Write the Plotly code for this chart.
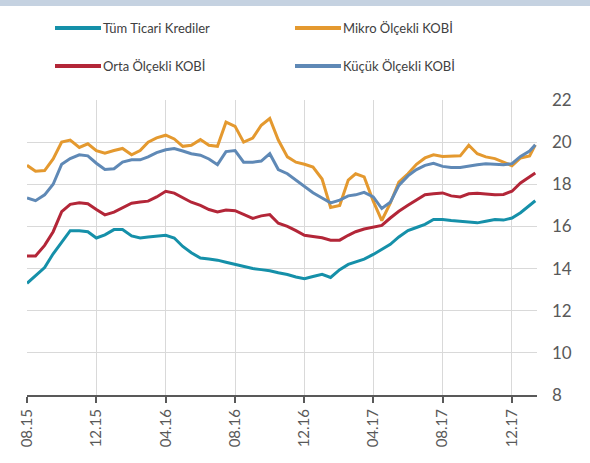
import plotly.graph_objects as go

dates = [
    "2015-08-01", "2015-08-16", "2015-09-01", "2015-09-16", "2015-10-01", "2015-10-16",
    "2015-11-01", "2015-11-16", "2015-12-01", "2015-12-16", "2016-01-01", "2016-01-16",
    "2016-02-01", "2016-02-16", "2016-03-01", "2016-03-16", "2016-04-01", "2016-04-16",
    "2016-05-01", "2016-05-16", "2016-06-01", "2016-06-16", "2016-07-01", "2016-07-16",
    "2016-08-01", "2016-08-16", "2016-09-01", "2016-09-16", "2016-10-01", "2016-10-16",
    "2016-11-01", "2016-11-16", "2016-12-01", "2016-12-16", "2017-01-01", "2017-01-16",
    "2017-02-01", "2017-02-16", "2017-03-01", "2017-03-16", "2017-04-01", "2017-04-16",
    "2017-05-01", "2017-05-16", "2017-06-01", "2017-06-16", "2017-07-01", "2017-07-16",
    "2017-08-01", "2017-08-16", "2017-09-01", "2017-09-16", "2017-10-01", "2017-10-16",
    "2017-11-01", "2017-11-16", "2017-12-01", "2017-12-16", "2018-01-01", "2018-01-11",
]

tum_ticari = [
    13.30, 13.65, 14.05, 14.70, 15.25, 15.80, 15.80, 15.75, 15.45, 15.60,
    15.85, 15.85, 15.55, 15.45, 15.50, 15.55, 15.58, 15.45, 15.05, 14.75,
    14.50, 14.45, 14.40, 14.30, 14.20, 14.10, 14.00, 13.95, 13.90, 13.80,
    13.72, 13.60, 13.52, 13.62, 13.73, 13.58, 13.95, 14.20, 14.30, 14.45,
    14.67, 14.90, 15.15, 15.50, 15.80, 15.95, 16.10, 16.33, 16.33, 16.28,
    16.25, 16.20, 16.17, 16.25, 16.33, 16.30, 16.40, 16.65, 17.00, 17.22,
]

mikro = [
    18.90, 18.62, 18.65, 19.20, 20.00, 20.10, 19.75, 19.92, 19.60, 19.48,
    19.60, 19.70, 19.40, 19.60, 20.00, 20.20, 20.33, 20.15, 19.80, 19.85,
    20.12, 19.85, 19.80, 20.95, 20.75, 20.00, 20.19, 20.80, 21.12, 20.10,
    19.30, 19.05, 18.95, 18.82, 18.25, 16.90, 17.00, 18.20, 18.50, 18.35,
    17.20, 16.28, 17.10, 18.10, 18.50, 18.95, 19.25, 19.40, 19.32, 19.32,
    19.35, 19.85, 19.45, 19.30, 19.22, 19.05, 18.88, 19.25, 19.35, 19.87,
]

orta = [
    14.60, 14.60, 15.10, 15.75, 16.70, 17.05, 17.12, 17.08, 16.80, 16.55,
    16.68, 16.90, 17.10, 17.16, 17.20, 17.40, 17.67, 17.58, 17.38, 17.15,
    17.00, 16.80, 16.69, 16.78, 16.75, 16.58, 16.38, 16.50, 16.56, 16.15,
    16.00, 15.80, 15.58, 15.52, 15.46, 15.35, 15.35, 15.58, 15.75, 15.88,
    15.95, 16.05, 16.40, 16.72, 17.00, 17.25, 17.50, 17.55, 17.59, 17.45,
    17.40, 17.55, 17.58, 17.54, 17.50, 17.52, 17.67, 18.06, 18.35, 18.53,
]

kucuk = [
    17.35, 17.22, 17.50, 18.00, 18.95, 19.22, 19.40, 19.35, 19.00, 18.70,
    18.74, 19.05, 19.16, 19.16, 19.30, 19.50, 19.64, 19.70, 19.58, 19.45,
    19.38, 19.20, 18.93, 19.55, 19.60, 19.05, 19.05, 19.10, 19.45, 18.70,
    18.50, 18.20, 17.90, 17.60, 17.35, 17.12, 17.25, 17.45, 17.50, 17.62,
    17.40, 16.85, 17.15, 17.95, 18.40, 18.70, 18.90, 19.00, 18.85, 18.80,
    18.80, 18.88, 18.93, 18.97, 18.95, 18.93, 18.98, 19.32, 19.58, 19.87,
]

series_names = ["Tüm Ticari Krediler", "Mikro Ölçekli KOBİ", "Orta Ölçekli KOBİ", "Küçük Ölçekli KOBİ"]
series_values = [tum_ticari, mikro, orta, kucuk]
series_colors = ["#1590a9", "#e4992f", "#b32638", "#5f89b6"]

y_ticks = [8, 10, 12, 14, 16, 18, 20, 22]
x_ticks = ["2015-08-01", "2015-12-01", "2016-04-01", "2016-08-01",
           "2016-12-01", "2017-04-01", "2017-08-01", "2017-12-01"]

fig = go.Figure()
for name, vals, col in zip(series_names, series_values, series_colors):
    fig.add_trace(go.Scatter(x=dates, y=vals, mode="lines", name=name,
                             line=dict(color=col, width=3), showlegend=False))

W, H = 590, 463
L, R, T, B = 27, 53, 100, 68
pw, ph = W - L - R, H - T - B

def px(x):
    return (x - L) / pw

def py(y):
    return (H - B - y) / ph

# custom legend (2 x 2)
legend_pos = [(55, 28), (295, 28), (55, 66), (295, 66)]
for (lx, ly), name, col in zip(legend_pos, series_names, series_colors):
    fig.add_shape(type="line", xref="paper", yref="paper",
                  x0=px(lx), x1=px(lx + 46), y0=py(ly), y1=py(ly),
                  line=dict(color=col, width=4))
    fig.add_annotation(xref="paper", yref="paper", x=px(lx + 46), y=py(ly),
                       text=name, showarrow=False, xanchor="left", yanchor="middle",
                       font=dict(family="Lato", size=13, color="#404040"))

# top band (light strip along the top edge)
fig.add_shape(type="rect", xref="paper", yref="paper",
              x0=px(-10), x1=px(W + 10), y0=py(6), y1=py(-10),
              fillcolor="#c5d2e1", line=dict(width=0), layer="above")

fig.update_layout(
    width=W, height=H,
    margin=dict(l=L, r=R, t=T, b=B),
    paper_bgcolor="white", plot_bgcolor="white",
    showlegend=False,
    xaxis=dict(
        type="date", range=["2015-08-01", "2018-01-14"],
        tickvals=x_ticks, tickformat="%m.%y", tickangle=-90,
        showgrid=True, gridcolor="#d9d9d9", gridwidth=1,
        showline=True, linecolor="#595959", linewidth=2,
        ticks="outside", ticklen=6, tickcolor="#595959", tickwidth=2,
        tickfont=dict(family="Lato", size=15, color="#595959"),
        zeroline=False,
    ),
    yaxis=dict(
        range=[8, 22], tickvals=y_ticks, side="right",
        showgrid=True, gridcolor="#d9d9d9", gridwidth=1,
        showline=False, ticks="", ticklabelstandoff=14,
        tickfont=dict(family="Lato", size=17, color="#595959"),
        zeroline=False,
    ),
)

fig.write_html("out.html", config={"displayModeBar": False},
               post_script="document.body.style.margin='0';document.body.style.padding='0';window.scrollTo(0,0);")
